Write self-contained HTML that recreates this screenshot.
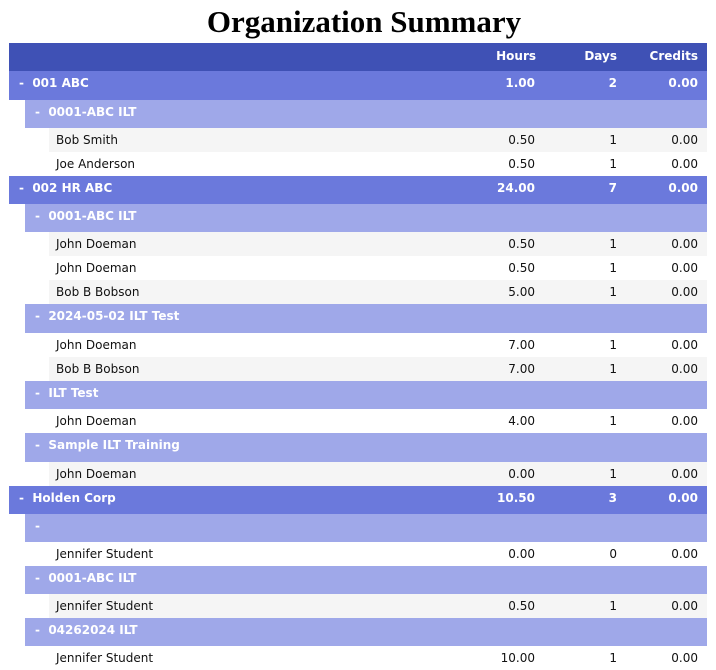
<!DOCTYPE html>
<html><head><meta charset="utf-8"><style>
body{margin:0;width:716px;height:670px;overflow:hidden;background:#fff;font-family:"DejaVu Sans","Liberation Sans",sans-serif;font-size:12px;position:relative}
h1{position:absolute;top:4px;left:6px;width:716px;margin:0;text-align:center;font:bold 31px "Liberation Serif",serif;color:#000;line-height:36px}
.r{position:absolute;right:9px;color:#fff;font-weight:bold}
.hd{background:#3f51b5;left:9px;height:28px}
.g{background:#6b79dc;left:9px}
.s{background:#9fa8e9;left:25px}
.d{background:#fff;left:49px;color:#111;font-weight:normal;height:24px}
.d.a{background:#f5f5f5}
.r span{position:absolute;top:5px;line-height:14px}
.d span{top:5px}
.n{left:10px}.s .n{left:10px}.d .n{left:7px}
.h{right:172px}.dy{right:90px}.c{right:9px}
</style></head><body>
<h1>Organization Summary</h1>
<div class="r hd" style="top:43px"><span class="h" style="right:171px;top:6px">Hours</span><span class="dy" style="top:6px">Days</span><span class="c" style="top:6px">Credits</span></div>

<div class="r g" style="top:71px;height:29px"><span class="n">-&nbsp;&nbsp;001 ABC</span><span class="h">1.00</span><span class="dy">2</span><span class="c">0.00</span></div>
<div class="r s" style="top:100px;height:28px"><span class="n">-&nbsp;&nbsp;0001-ABC ILT</span></div>
<div class="r d a" style="top:128px"><span class="n">Bob Smith</span><span class="h">0.50</span><span class="dy">1</span><span class="c">0.00</span></div>
<div class="r d" style="top:152px"><span class="n">Joe Anderson</span><span class="h">0.50</span><span class="dy">1</span><span class="c">0.00</span></div>

<div class="r g" style="top:176px;height:28px"><span class="n">-&nbsp;&nbsp;002 HR ABC</span><span class="h">24.00</span><span class="dy">7</span><span class="c">0.00</span></div>
<div class="r s" style="top:204px;height:28px"><span class="n">-&nbsp;&nbsp;0001-ABC ILT</span></div>
<div class="r d a" style="top:232px"><span class="n">John Doeman</span><span class="h">0.50</span><span class="dy">1</span><span class="c">0.00</span></div>
<div class="r d" style="top:256px"><span class="n">John Doeman</span><span class="h">0.50</span><span class="dy">1</span><span class="c">0.00</span></div>
<div class="r d a" style="top:280px"><span class="n">Bob B Bobson</span><span class="h">5.00</span><span class="dy">1</span><span class="c">0.00</span></div>
<div class="r s" style="top:304px;height:29px"><span class="n">-&nbsp;&nbsp;2024-05-02 ILT Test</span></div>
<div class="r d" style="top:333px"><span class="n">John Doeman</span><span class="h">7.00</span><span class="dy">1</span><span class="c">0.00</span></div>
<div class="r d a" style="top:357px"><span class="n">Bob B Bobson</span><span class="h">7.00</span><span class="dy">1</span><span class="c">0.00</span></div>
<div class="r s" style="top:381px;height:28px"><span class="n">-&nbsp;&nbsp;ILT Test</span></div>
<div class="r d" style="top:409px"><span class="n">John Doeman</span><span class="h">4.00</span><span class="dy">1</span><span class="c">0.00</span></div>
<div class="r s" style="top:433px;height:29px"><span class="n">-&nbsp;&nbsp;Sample ILT Training</span></div>
<div class="r d a" style="top:462px"><span class="n">John Doeman</span><span class="h">0.00</span><span class="dy">1</span><span class="c">0.00</span></div>

<div class="r g" style="top:486px;height:28px"><span class="n">-&nbsp;&nbsp;Holden Corp</span><span class="h">10.50</span><span class="dy">3</span><span class="c">0.00</span></div>
<div class="r s" style="top:514px;height:28px"><span class="n">-</span></div>
<div class="r d" style="top:542px"><span class="n">Jennifer Student</span><span class="h">0.00</span><span class="dy">0</span><span class="c">0.00</span></div>
<div class="r s" style="top:566px;height:28px"><span class="n">-&nbsp;&nbsp;0001-ABC ILT</span></div>
<div class="r d a" style="top:594px"><span class="n">Jennifer Student</span><span class="h">0.50</span><span class="dy">1</span><span class="c">0.00</span></div>
<div class="r s" style="top:618px;height:28px"><span class="n">-&nbsp;&nbsp;04262024 ILT</span></div>
<div class="r d" style="top:646px"><span class="n">Jennifer Student</span><span class="h">10.00</span><span class="dy">1</span><span class="c">0.00</span></div>
</body></html>
